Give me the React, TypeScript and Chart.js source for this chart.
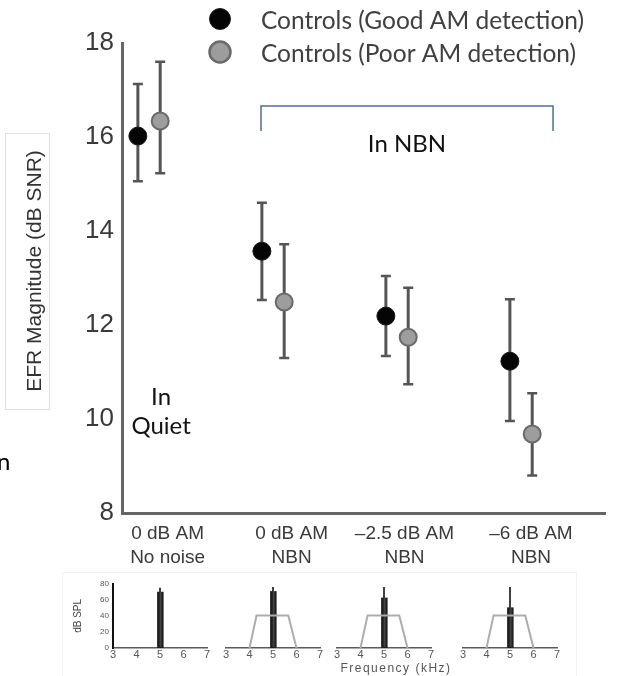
import React, { useEffect, useRef } from "react";
import { Chart, registerables } from "chart.js";

Chart.register(...registerables);
Chart.defaults.font.family = '"Liberation Sans", Arial, sans-serif';

// ---------- main chart data ----------
const categories: string[][] = [
  ["0 dB AM", "No noise"],
  ["0 dB AM", "NBN"],
  ["\u20132.5 dB AM", "NBN"],
  ["\u20136 dB AM", "NBN"],
];
const categoryIndex = [0, 1, 2, 3];
const tickLabelPositions = [0.15, 1.15, 2.06, 3.08];
const yTicks = [8, 10, 12, 14, 16, 18];
const yTitle = "EFR Magnitude (dB SNR)";

const goodLabel = "Controls (Good AM detection)";
const goodMean = [16.02, 13.57, 12.19, 11.23];
const goodLow = [15.06, 12.53, 11.34, 9.96];
const goodHigh = [17.13, 14.6, 13.04, 12.55];

const poorLabel = "Controls (Poor AM detection)";
const poorMean = [16.34, 12.49, 11.74, 9.68];
const poorLow = [15.23, 11.3, 10.74, 8.8];
const poorHigh = [17.6, 13.72, 12.79, 10.55];

// ---------- inset (spectra) data ----------
const insetFreqTicks = [3, 4, 5, 6, 7];
const insetLevelTicks = [0, 20, 40, 60, 80];
const carrierFreq = 5.0;
const carrierLevel = 75;
const sidebandFreqs = [4.93, 5.1];
const sidebandLevels = [70, 70, 62, 50];
const noisePresent = [false, true, true, true];
const noiseFreqs = [4.0, 4.3, 5.65, 6.0];
const noiseLevels = [0, 40, 40, 0];

// style / layout constants
const GROUP_OFFSET = 0.09;
const BRACKET_X = [0.903, 3.258];
const BRACKET_Y = [16.66, 16.13];

const errorSets = [
  { low: goodLow, high: goodHigh },
  { low: poorLow, high: poorHigh },
];

const errorBarPlugin = {
  id: "errorBars",
  beforeDatasetsDraw(chart: any) {
    const { ctx, scales } = chart;
    const x = scales.x;
    const y = scales.y;
    ctx.save();
    chart.data.datasets.forEach((ds: any, di: number) => {
      const e = errorSets[di];
      ds.data.forEach((p: any, i: number) => {
        const px = x.getPixelForValue(p.x);
        const lo = y.getPixelForValue(e.low[i]);
        const hi = y.getPixelForValue(e.high[i]);
        ctx.strokeStyle = "#555555";
        ctx.lineWidth = 3;
        ctx.beginPath();
        ctx.moveTo(px, lo);
        ctx.lineTo(px, hi);
        ctx.stroke();
        ctx.lineWidth = 2.5;
        ctx.beginPath();
        ctx.moveTo(px - 5, lo);
        ctx.lineTo(px + 5, lo);
        ctx.moveTo(px - 5, hi);
        ctx.lineTo(px + 5, hi);
        ctx.stroke();
      });
    });
    ctx.restore();
  },
};

const annotationPlugin = {
  id: "annotations",
  afterDraw(chart: any) {
    const { ctx, scales } = chart;
    const x = scales.x;
    const y = scales.y;
    ctx.save();
    // bracket
    const bx1 = x.getPixelForValue(BRACKET_X[0]);
    const bx2 = x.getPixelForValue(BRACKET_X[1]);
    const byT = y.getPixelForValue(BRACKET_Y[0]);
    const byB = y.getPixelForValue(BRACKET_Y[1]);
    ctx.strokeStyle = "#4d6e99";
    ctx.lineWidth = 1.5;
    ctx.beginPath();
    ctx.moveTo(bx1, byB);
    ctx.lineTo(bx1, byT);
    ctx.lineTo(bx2, byT);
    ctx.lineTo(bx2, byB);
    ctx.stroke();

    // in-plot texts
    ctx.fillStyle = "#111";
    ctx.font = '24px Lato, "Open Sans", sans-serif';
    ctx.textAlign = "center";
    ctx.textBaseline = "alphabetic";
    ctx.fillText("In NBN", x.getPixelForValue(2.08), y.getPixelForValue(15.87) + 8.6);
    ctx.fillText("In", x.getPixelForValue(0.097), y.getPixelForValue(10.49) + 8.6);
    ctx.fillText("Quiet", x.getPixelForValue(0.097), y.getPixelForValue(9.87) + 8.6);

    // legend
    const ds = chart.data.datasets;
    const rows = [19, 52];
    ds.forEach((d: any, i: number) => {
      ctx.beginPath();
      ctx.arc(220, rows[i], 10.5, 0, Math.PI * 2);
      ctx.fillStyle = d.pointBackgroundColor;
      ctx.fill();
      ctx.lineWidth = i === 0 ? 1 : 2.5;
      ctx.strokeStyle = d.pointBorderColor;
      ctx.stroke();
      ctx.fillStyle = "#404040";
      ctx.font = '24.5px Lato, "Open Sans", sans-serif';
      ctx.textAlign = "left";
      ctx.fillText(d.label, 261, rows[i] + 9.5);
    });

    // y-axis title box
    ctx.strokeStyle = "#e0e0e0";
    ctx.lineWidth = 1;
    ctx.strokeRect(5.5, 133.5, 44, 276);
    ctx.save();
    ctx.translate(35, 271);
    ctx.rotate(-Math.PI / 2);
    ctx.fillStyle = "#333";
    ctx.font = '21px "Liberation Sans", Arial, sans-serif';
    ctx.textAlign = "center";
    ctx.textBaseline = "middle";
    ctx.fillText(yTitle, 0, 0);
    ctx.restore();

    // clipped stray letter at the left edge
    ctx.fillStyle = "#000";
    ctx.font = '24px Lato, "Open Sans", sans-serif';
    ctx.textAlign = "left";
    ctx.fillText("n", -3, 470);
    ctx.restore();
  },
};

function MainChart() {
  const ref = useRef<HTMLCanvasElement>(null);
  useEffect(() => {
    const chart = new Chart(ref.current as HTMLCanvasElement, {
      type: "scatter",
      data: {
        datasets: [
          {
            label: goodLabel,
            data: categoryIndex.map((c, i) => ({ x: c - GROUP_OFFSET, y: goodMean[i] })),
            pointRadius: 9,
            pointBackgroundColor: "#050505",
            pointBorderColor: "#1a1a1a",
            pointBorderWidth: 1,
          } as any,
          {
            label: poorLabel,
            data: categoryIndex.map((c, i) => ({ x: c + GROUP_OFFSET, y: poorMean[i] })),
            pointRadius: 8.5,
            pointBackgroundColor: "#9d9d9d",
            pointBorderColor: "#6a6a6a",
            pointBorderWidth: 2,
          } as any,
        ],
      },
      options: {
        responsive: false,
        animation: false,
        layout: { padding: { left: 0, top: 43, right: 29, bottom: 93 } },
        plugins: { legend: { display: false }, tooltip: { enabled: false } },
        scales: {
          x: {
            type: "linear",
            min: -0.218,
            max: 3.677,
            grid: { display: false, drawTicks: false },
            border: { display: true, color: "#666", width: 3 },
            afterFit(s: any) {
              s.height = 70;
            },
            afterBuildTicks(s: any) {
              s.ticks = tickLabelPositions.map((v) => ({ value: v }));
            },
            ticks: {
              autoSkip: false,
              maxRotation: 0,
              padding: 8,
              color: "#3a3a3a",
              font: { size: 19, lineHeight: 1.3 },
              callback: (_v: any, i: number) => categories[i],
            },
          },
          y: {
            type: "linear",
            min: 8,
            max: 18,
            grid: { display: false, drawTicks: false },
            border: { display: true, color: "#666", width: 3 },
            afterFit(s: any) {
              s.width = 122;
            },
            afterBuildTicks(s: any) {
              s.ticks = yTicks.map((v) => ({ value: v }));
            },
            ticks: { padding: 8, color: "#3a3a3a", font: { size: 26 } },
          },
        } as any,
      },
      plugins: [errorBarPlugin, annotationPlugin],
    });
    return () => chart.destroy();
  }, []);
  return (
    <canvas ref={ref} width={634} height={676} style={{ position: "absolute", left: 0, top: 0 }} />
  );
}

function Inset({ index, left, showY }: { index: number; left: number; showY: boolean }) {
  const ref = useRef<HTMLCanvasElement>(null);
  const width = showY ? 145 : 110;
  useEffect(() => {
    const line = (pts: { x: number; y: number }[], color: string, w: number) => ({
      data: pts,
      showLine: true,
      borderColor: color,
      borderWidth: w,
      pointRadius: 0,
    });
    const datasets: any[] = [];
    if (noisePresent[index]) {
      datasets.push(line(noiseFreqs.map((f, k) => ({ x: f, y: noiseLevels[k] })), "#adadad", 2));
    }
    sidebandFreqs.forEach((f) => {
      datasets.push(line([{ x: f, y: 0 }, { x: f, y: sidebandLevels[index] }], "#1e1e1e", 2.5));
    });
    datasets.push(line([{ x: carrierFreq, y: 0 }, { x: carrierFreq, y: carrierLevel }], "#000", 1.5));

    const chart = new Chart(ref.current as HTMLCanvasElement, {
      type: "scatter",
      data: { datasets },
      options: {
        responsive: false,
        animation: false,
        layout: { padding: { left: showY ? 0 : 8, right: 8, top: 8, bottom: 8 } },
        plugins: { legend: { display: false }, tooltip: { enabled: false } },
        scales: {
          x: {
            type: "linear",
            min: 3,
            max: 7,
            grid: { display: false, drawTicks: false },
            border: { display: true, color: "#5a5a5a", width: 1.5 },
            afterFit(s: any) {
              s.height = 14;
            },
            afterBuildTicks(s: any) {
              s.ticks = insetFreqTicks.map((v) => ({ value: v }));
            },
            ticks: { padding: 0, color: "#555", font: { size: 11 }, autoSkip: false, maxRotation: 0 },
          },
          y: {
            type: "linear",
            display: showY,
            min: 0,
            max: 80,
            grid: { display: false, drawTicks: false },
            border: { display: true, color: "#111", width: 2 },
            afterFit(s: any) {
              s.width = showY ? 43 : 0;
            },
            afterBuildTicks(s: any) {
              s.ticks = insetLevelTicks.map((v) => ({ value: v }));
            },
            ticks: { padding: 4, color: "#555", font: { size: 8 } },
            title: { display: true, text: "dB SPL", color: "#444", font: { size: 10 }, padding: 2 },
          },
        } as any,
      },
    });
    return () => chart.destroy();
  }, [index, showY]);
  return (
    <canvas
      ref={ref}
      width={width}
      height={95}
      style={{ position: "absolute", left, top: 575 }}
    />
  );
}

const insetLefts = [70, 218, 329, 455];

export default function App() {
  useEffect(() => {
    document.body.style.margin = "0";
  }, []);
  return (
    <div
      style={{
        position: "absolute",
        left: 0,
        top: 0,
        width: 634,
        height: 676,
        overflow: "hidden",
        background: "#fff",
      }}
    >
      <div
        style={{
          position: "absolute",
          left: 62,
          top: 572,
          width: 515,
          height: 110,
          border: "1px solid #f3f3f3",
          boxSizing: "border-box",
        }}
      />
      <MainChart />
      {insetLefts.map((l, i) => (
        <Inset key={i} index={i} left={l} showY={i === 0} />
      ))}
      <div
        style={{
          position: "absolute",
          left: 316,
          width: 160,
          top: 661,
          textAlign: "center",
          font: '12px "Liberation Sans", Arial, sans-serif',
          letterSpacing: "1.5px",
          color: "#555",
          whiteSpace: "nowrap",
        }}
      >
        Frequency (kHz)
      </div>
    </div>
  );
}
